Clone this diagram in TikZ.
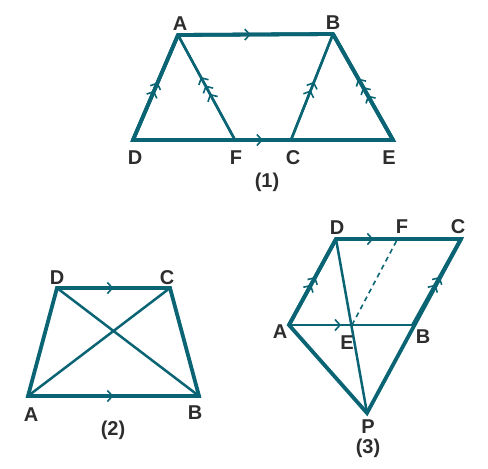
\documentclass[tikz,border=0pt]{standalone}
\usepackage{fontspec}
\setmainfont{Liberation Sans}
\usetikzlibrary{arrows.meta,decorations.markings}
\definecolor{teal1}{RGB}{10,100,115}
\definecolor{lbl}{RGB}{45,45,45}
\tikzset{
  thickseg/.style={draw=teal1,line width=3.8pt,line join=miter,line cap=round},
  thinseg/.style={draw=teal1,line width=2.5pt,line cap=round},
  dashseg/.style={draw=teal1,line width=1.6pt,dash pattern=on 5pt off 4pt},
  mk/.style={postaction={decorate,decoration={markings,
      mark=at position #1 with {\arrow{Straight Barb[length=5pt,width=11pt,line width=1.6pt]}}}}},
  lab/.style={font=\bfseries\fontsize{20}{20}\selectfont,text=lbl,inner sep=0pt},
}
\begin{document}
\begin{tikzpicture}[x=1pt,y=-1pt]
\useasboundingbox (0,0) rectangle (488,469);
% ---------- Figure (1)
\coordinate (A1) at (178,35);
\coordinate (B1) at (333,34);
\coordinate (D1) at (133,140);
\coordinate (F1) at (235,140);
\coordinate (C1) at (291,140);
\coordinate (E1) at (393,140);
\draw[thickseg] (D1) -- (A1) -- (B1) -- (E1) -- cycle;
\draw[thinseg] (A1) -- (F1);
\draw[thinseg] (B1) -- (C1);
\draw[thickseg,mk=0.47,mk=0.55] (D1) -- (A1);
\draw[thickseg,mk=0.47] (A1) -- (B1);
\draw[thickseg,mk=0.42,mk=0.5,mk=0.58] (E1) -- (B1);
\draw[thickseg,mk=0.5] (D1) -- (E1);
\draw[thinseg,mk=0.44,mk=0.52,mk=0.6] (F1) -- (A1);
\draw[thinseg,mk=0.47,mk=0.55] (C1) -- (B1);
\node[lab] (lA1) at (180,24) {A};
\node[lab] (lB1) at (333,23) {B};
\node[lab] (lD1) at (135,158) {D};
\node[lab] (lF1) at (236,158) {F};
\node[lab] (lC1) at (293,158) {C};
\node[lab] (lE1) at (389,158) {E};
\node[lab] (cap1) at (267,182) {(1)};
% ---------- Figure (2)
\coordinate (D2) at (57,288);
\coordinate (C2) at (170,288);
\coordinate (A2) at (28,396);
\coordinate (B2) at (199,396);
\draw[thinseg] (A2) -- (C2);
\draw[thinseg] (D2) -- (B2);
\draw[thickseg] (A2) -- (B2) -- (C2) -- (D2) -- cycle;
\draw[thickseg,mk=0.5] (D2) -- (C2);
\draw[thickseg,mk=0.5] (A2) -- (B2);
\node[lab] (lD2) at (57,278) {D};
\node[lab] (lC2) at (167,278) {C};
\node[lab] (lA2) at (31,415) {A};
\node[lab] (lB2) at (195,413) {B};
\node[lab] (cap2) at (113,430) {(2)};
% ---------- Figure (3)
\coordinate (D3) at (336,239);
\coordinate (C3) at (461,239);
\coordinate (A3) at (289,325);
\coordinate (B3) at (413,325);
\coordinate (E3) at (352,325);
\coordinate (F3) at (397,240);
\coordinate (P3) at (367,413);
\draw[dashseg] (E3) -- (F3);
\draw[thinseg,mk=0.42] (A3) -- (B3);
\draw[thinseg] (D3) -- (P3);
\draw[thickseg] (A3) -- (D3) -- (C3) -- (P3) -- cycle;
\draw[thickseg,mk=0.47,mk=0.56] (A3) -- (D3);
\draw[thickseg,mk=0.3] (D3) -- (C3);
\draw[thickseg,mk=0.47,mk=0.56] (B3) -- (C3);
\node[lab] (lD3) at (337,228) {D};
\node[lab] (lF3) at (402,227) {F};
\node[lab] (lC3) at (458,227) {C};
\node[lab] (lA3) at (280,332) {A};
\node[lab] (lE3) at (347,343) {E};
\node[lab] (lB3) at (423,337) {B};
\node[lab] (lP3) at (368,427) {P};
\node[lab] (cap3) at (368,448) {(3)};
\end{tikzpicture}
\end{document}
